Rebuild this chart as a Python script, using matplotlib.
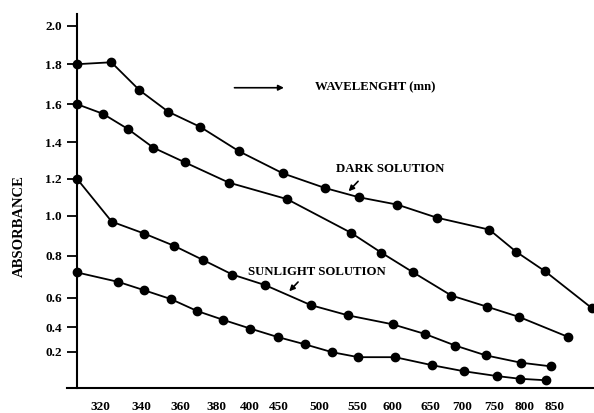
import numpy as np
import matplotlib
matplotlib.use("Agg")
import matplotlib.pyplot as plt

# ---------------- data ----------------
x_tick_labels = [320, 340, 360, 380, 400, 450, 500, 550, 600, 650, 700, 750, 800, 850]
y_tick_labels = [0.2, 0.4, 0.6, 0.8, 1.0, 1.2, 1.4, 1.6, 1.8, 2.0]

dark_x = [309, 325.4, 338.9, 353.9, 371.1, 393.8, 455.7, 507.8, 551.9, 606.5, 659.5, 742.6, 786.3, 835.2, 913.5]
dark_y = [1.80, 1.81, 1.67, 1.56, 1.48, 1.35, 1.23, 1.15, 1.10, 1.06, 0.99, 0.93, 0.82, 0.725, 0.53]

s2_x = [309, 321.3, 333.3, 346.1, 362.7, 387.4, 460.6, 540.9, 584.1, 627.3, 682.7, 738.2, 791.3, 874.1]
s2_y = [1.60, 1.55, 1.47, 1.37, 1.29, 1.18, 1.09, 0.915, 0.815, 0.72, 0.61, 0.54, 0.47, 0.32]

s3_x = [309, 325.6, 341.4, 356.7, 372.4, 389.6, 427.1, 489.5, 537.8, 600.5, 642.6, 688.9, 736.9, 794.1, 844.5]
s3_y = [1.20, 0.97, 0.91, 0.85, 0.78, 0.71, 0.66, 0.55, 0.48, 0.42, 0.345, 0.25, 0.18, 0.14, 0.12]

sun_x = [309, 328.8, 341.4, 355.3, 369.3, 384.0, 401.2, 449.0, 482.6, 516.9, 550.9, 603.5, 652.5, 702.7, 754.5, 792.9, 836.0]
sun_y = [0.72, 0.675, 0.635, 0.59, 0.51, 0.45, 0.39, 0.32, 0.26, 0.197, 0.17, 0.17, 0.126, 0.093, 0.067, 0.052, 0.044]

# ------------- hand-drawn (irregular) axis scales -------------
X_ANCHOR_VAL = [300, 320, 340, 360, 380, 400, 450, 500, 550, 600, 650, 700, 750, 800, 850, 900, 950]
X_ANCHOR_POS = [58.3, 100, 141.7, 180, 216.7, 249.3, 278.3, 319.3, 357.7, 392.3, 430.7, 462.3, 494, 524.3, 554, 583.7, 613.4]
Y_ANCHOR_VAL = [0.0, 0.2, 0.4, 0.6, 0.8, 1.0, 1.2, 1.4, 1.6, 1.8, 2.0, 2.2]
Y_ANCHOR_POS = [-388.3, -351.7, -327.3, -297.7, -255.7, -215.7, -179, -142.3, -104.3, -64.3, -25.7, 12.9]


def xf(v):
    return np.interp(v, X_ANCHOR_VAL, X_ANCHOR_POS)


def xi(p):
    return np.interp(p, X_ANCHOR_POS, X_ANCHOR_VAL)


def yf(v):
    return np.interp(v, Y_ANCHOR_VAL, Y_ANCHOR_POS)


def yi(p):
    return np.interp(p, Y_ANCHOR_POS, Y_ANCHOR_VAL)


plt.rcParams['font.family'] = ['Liberation Serif', 'DejaVu Serif']
plt.rcParams['font.weight'] = 'bold'

fig = plt.figure(figsize=(5.94, 4.13), dpi=100)
ax = fig.add_axes([66.7 / 594, (413 - 388.3) / 413, (594 - 66.7) / 594, (388.3 - 14) / 413])
ax.set_xscale('function', functions=(xf, xi))
ax.set_yscale('function', functions=(yf, yi))
ax.set_xlim(304.0, 917.3)
ax.set_ylim(0.0, 2.06)

style = dict(color='black', lw=1.3, marker='o', markersize=6, markerfacecolor='black',
             markeredgecolor='black', clip_on=False)
for xs, ys in [(dark_x, dark_y), (s2_x, s2_y), (s3_x, s3_y), (sun_x, sun_y)]:
    ax.plot(xs, ys, **style)

# spines
for s in ['top', 'right']:
    ax.spines[s].set_visible(False)
ax.spines['left'].set_position(('data', 309))
ax.spines['left'].set_linewidth(1.5)
ax.spines['bottom'].set_linewidth(1.5)

ax.set_xticks(x_tick_labels)
ax.set_xticklabels([str(v) for v in x_tick_labels], fontsize=9.5, fontweight='bold')
ax.tick_params(axis='x', length=0, pad=9.5)
ax.set_yticks(y_tick_labels)
ax.set_yticklabels([f"{v:.1f}" for v in y_tick_labels], fontsize=9.5, fontweight='bold')
ax.tick_params(axis='y', length=7, width=1.3, direction='out', pad=4)
ax.yaxis.set_minor_locator(matplotlib.ticker.FixedLocator([2.0]))
ax.yaxis.set_minor_formatter(matplotlib.ticker.NullFormatter())
ax.tick_params(axis='y', which='minor', length=4, width=1.3, direction='in')

fig.text(19 / 594, (413 - 226.5) / 413, 'ABSORBANCE', rotation=90, ha='center', va='center',
         fontsize=10.5, fontweight='bold')

ax.text(0.5847, 0.803, 'WAVELENGHT (mn)', transform=ax.transAxes, ha='center', va='center',
        fontsize=9.2, fontweight='bold')
ax.annotate('', xy=(0.4172, 0.803), xytext=(0.3129, 0.803), xycoords='axes fraction',
            arrowprops=dict(arrowstyle='-|>', color='black', lw=1.2, mutation_scale=8))

ax.text(0.6131, 0.5859, 'DARK SOLUTION', transform=ax.transAxes, ha='center', va='center',
        fontsize=9.2, fontweight='bold')
ax.annotate('', xy=(0.5310, 0.5210), xytext=(0.5562, 0.5584), xycoords='axes fraction',
            arrowprops=dict(arrowstyle='-|>', color='black', lw=1.2, mutation_scale=8))

ax.text(0.4747, 0.3099, 'SUNLIGHT SOLUTION', transform=ax.transAxes, ha='center', va='center',
        fontsize=9.2, fontweight='bold')
ax.annotate('', xy=(0.4184, 0.2538), xytext=(0.4424, 0.2893), xycoords='axes fraction',
            arrowprops=dict(arrowstyle='-|>', color='black', lw=1.2, mutation_scale=8))

fig.savefig('out.png', dpi=100)
